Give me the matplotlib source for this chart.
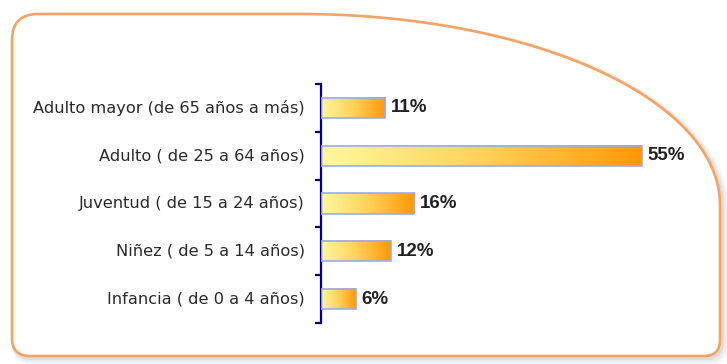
import numpy as np
import matplotlib.pyplot as plt
from matplotlib.path import Path
from matplotlib.patches import PathPatch, Rectangle
from matplotlib.colors import LinearSegmentedColormap

categories = ["Infancia ( de 0 a 4 años)",
              "Niñez ( de 5 a 14 años)",
              "Juventud ( de 15 a 24 años)",
              "Adulto ( de 25 a 64 años)",
              "Adulto mayor (de 65 años a más)"]
values = [6, 12, 16, 55, 11]

W, H = 727, 364
fig = plt.figure(figsize=(W / 100, H / 100), dpi=100)

# background frame in pixel coords
bg = fig.add_axes([0, 0, 1, 1])
bg.set_xlim(0, W)
bg.set_ylim(H, 0)
bg.axis('off')

t = np.linspace(np.pi / 2, 0, 60)
arc = np.column_stack([300 + 420 * np.cos(t), 205 - 191 * np.sin(t)])
verts = [(12, 338), (12, 40), (12, 14), (38, 14), (300, 14)]
codes = [Path.MOVETO, Path.LINETO, Path.CURVE3, Path.CURVE3, Path.LINETO]
verts += [tuple(p) for p in arc[1:]]
codes += [Path.LINETO] * (len(arc) - 1)
verts += [(720, 340), (720, 356), (704, 356), (30, 356), (12, 356), (12, 338)]
codes += [Path.LINETO, Path.CURVE3, Path.CURVE3, Path.LINETO, Path.CURVE3, Path.CURVE3]
frame = Path(verts, codes)

for off, lw, a in [(4, 7, 0.06), (3, 5, 0.08), (2, 3, 0.12)]:
    sh = Path(frame.vertices + off, frame.codes)
    bg.add_patch(PathPatch(sh, facecolor='none', edgecolor='#777777', lw=lw, alpha=a))
bg.add_patch(PathPatch(frame, facecolor='white', edgecolor='#F5A262', lw=1.9))

# chart axes
ax = fig.add_axes([321 / W, (H - 323) / H, 350 / W, 239 / H])
ax.set_xlim(0, 60)
ax.set_ylim(-0.5, 4.5)
ax.patch.set_alpha(0)

cmap = LinearSegmentedColormap.from_list('yo', ['#FFF8A0', '#FFD25A', '#FF9808'])
grad = np.linspace(0, 1, 256).reshape(1, -1)
bh = 0.42
for i, v in enumerate(values):
    ax.imshow(grad, cmap=cmap, aspect='auto', extent=(0, v, i - bh / 2, i + bh / 2),
              interpolation='bilinear', zorder=2)
    ax.add_patch(Rectangle((0, i - bh / 2), v, bh, fill=False,
                           edgecolor='#98ACF2', lw=1.2, zorder=3))
    ax.text(v + 1.0, i, f"{v}%", va='center', ha='left', fontsize=13.5,
            fontweight='bold', color='#222222', family='Liberation Sans')

ax.set_xlim(0, 60)
ax.set_ylim(-0.5, 4.5)
for s in ['top', 'right', 'bottom']:
    ax.spines[s].set_visible(False)
ax.spines['left'].set_color('#000080')
ax.spines['left'].set_linewidth(1.6)
ax.set_xticks([])
ax.set_yticks(np.arange(-0.5, 5, 1))
ax.set_yticklabels([])
ax.tick_params(axis='y', length=4, width=1.6, color='#000080', direction='out')
for i, c in enumerate(categories):
    ax.text(-2.8, i, c, ha='right', va='center', fontsize=11.7, color='#2a2a2a',
            family='DejaVu Sans')

fig.savefig('out.png', dpi=100)
